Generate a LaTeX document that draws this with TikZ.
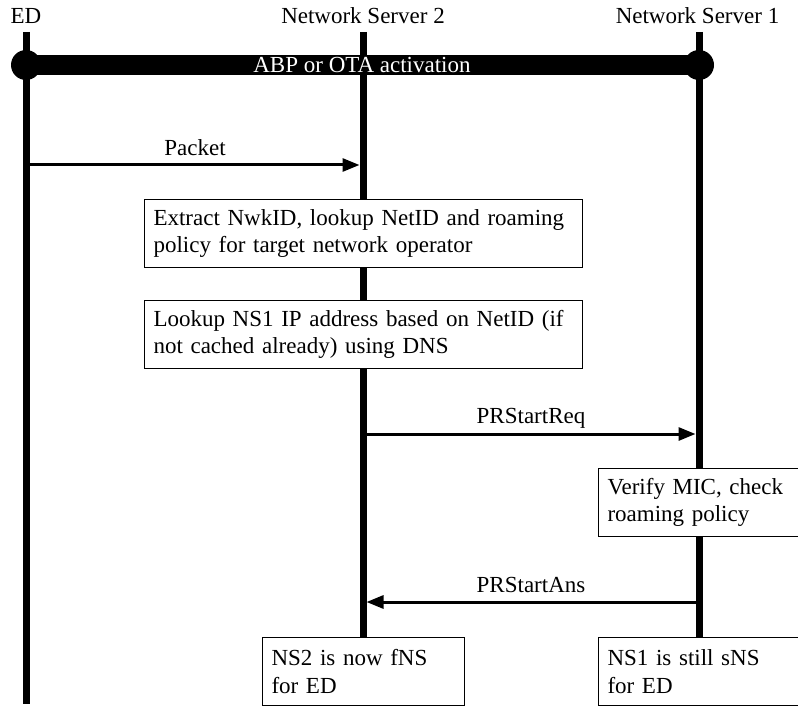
\documentclass[tikz,border=0pt]{standalone}
\usepackage{fontspec}
\setmainfont{Liberation Serif}
\usetikzlibrary{arrows.meta}
\begin{document}
\begin{tikzpicture}[x=1pt,y=-1pt,
  txt/.style={font=\fontsize{23}{27.6}\selectfont, inner sep=0pt},
  lifeline/.style={line width=7pt},
  msg/.style={line width=3pt, -{Triangle[length=17pt,width=13pt]}},
  notebox/.style={draw, line width=1pt, fill=white, anchor=north west,
    minimum height=68pt, inner xsep=9pt, inner ysep=0pt, align=left,
    font=\fontsize{23}{27.6}\selectfont},
]
\useasboundingbox (0,0) rectangle (798,706);

% participants
\node[txt, anchor=base] (ed)  at (26,24)    {ED};
\node[txt, anchor=base] (ns2) at (363,24)   {Network Server 2};
\node[txt, anchor=base] (ns1) at (697.5,24) {Network Server 1};

% lifelines (drawn first, the notes sit on top of them)
\coordinate (edTop)    at (26,32);
\coordinate (edEnd)    at (26,704);
\coordinate (nsTwoTop) at (363,32);
\coordinate (nsTwoEnd) at (363,637);
\coordinate (nsOneTop) at (699,32);
\coordinate (nsOneEnd) at (699,637);
\draw[lifeline] (edTop) -- (edEnd);
\draw[lifeline] (nsTwoTop) -- (nsTwoEnd);
\draw[lifeline] (nsOneTop) -- (nsOneEnd);

% notes
\node[notebox, text width=420pt] (extract) at (144,199)
  {\makebox[418pt][s]{Extract NwkID, lookup NetID and roaming}\\policy for target network operator};
\node[notebox, text width=420pt] (lookup) at (144,300)
  {\makebox[418pt][s]{Lookup NS1 IP address based on NetID (if}\\not cached already) using DNS};
\node[notebox, text width=194pt] (verify) at (598,468) {Verify MIC, check\\roaming policy};
\node[notebox, text width=184pt] (fns) at (262,637) {NS2 is now fNS\\for ED};
\node[notebox, text width=194pt] (sns) at (598,637) {NS1 is still sNS\\for ED};

% activation bar
\coordinate (barL) at (26,65);
\coordinate (barR) at (699,65);
\draw[line width=20pt] (barL) -- (barR);
\fill (barL) circle (15pt);
\fill (barR) circle (15pt);
\node[txt, text=white, anchor=base] (activation) at (362,73) {ABP or OTA activation};

% messages
\coordinate (pktFrom) at (29.5,165);
\coordinate (pktTo)   at (359.5,165);
\draw[msg] (pktFrom) -- (pktTo);
\node[txt, anchor=base] (packet) at (195,156) {Packet};

\coordinate (reqFrom) at (366.5,434);
\coordinate (reqTo)   at (695.5,434);
\draw[msg] (reqFrom) -- (reqTo);
\node[txt, anchor=base] (prreq) at (531,423) {PRStartReq};

\coordinate (ansFrom) at (695.5,602);
\coordinate (ansTo)   at (366.5,602);
\draw[msg] (ansFrom) -- (ansTo);
\node[txt, anchor=base] (prans) at (531,592) {PRStartAns};
\end{tikzpicture}
\end{document}
